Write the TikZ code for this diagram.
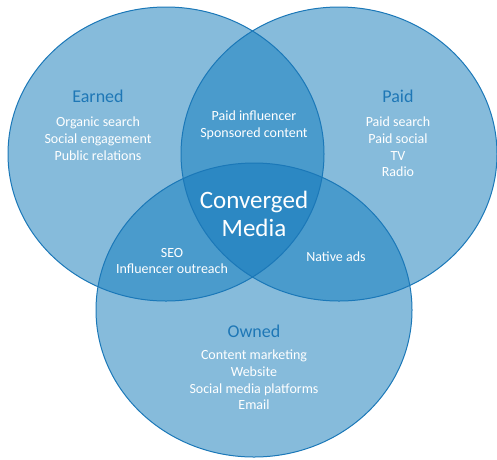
\documentclass[tikz,border=0pt]{standalone}
\usepackage{fontspec}
\setmainfont{Carlito}
\usetikzlibrary{positioning}
\definecolor{venlight}{HTML}{86BBDB}
\definecolor{venmid}{HTML}{4A9BCC}
\definecolor{vendark}{HTML}{2C88C3}
\definecolor{venedge}{HTML}{1B78B8}
\definecolor{ventitle}{HTML}{1E77B6}
\tikzset{
  oval/.style={x radius=158pt, y radius=147pt},
  title/.style={text=ventitle, font=\fontsize{18}{21}\selectfont},
  items/.style={text=white, align=center, font=\fontsize{14}{16.7}\selectfont},
  big/.style={text=white, align=center, font=\fontsize{25}{28}\selectfont}
}
\begin{document}
\begin{tikzpicture}[x=1pt,y=-1pt]
\useasboundingbox (0,0) rectangle (497,459);
\coordinate (earned) at (166,154);
\coordinate (paid) at (339,154);
\coordinate (owned) at (254,310);
% light circles
\fill[venlight] (earned) ellipse[oval];
\fill[venlight] (paid) ellipse[oval];
\fill[venlight] (owned) ellipse[oval];
% pairwise overlaps
\begin{scope}
\clip (earned) ellipse[oval];
\fill[venmid] (paid) ellipse[oval];
\fill[venmid] (owned) ellipse[oval];
\end{scope}
\begin{scope}
\clip (paid) ellipse[oval];
\fill[venmid] (owned) ellipse[oval];
\end{scope}
% centre
\begin{scope}
\clip (earned) ellipse[oval];
\clip (paid) ellipse[oval];
\fill[vendark] (owned) ellipse[oval];
\end{scope}
\foreach \c in {earned,paid,owned}
  \draw[venedge, line width=1pt] (\c) ellipse[oval];
% labels
\node[title] (earnedT) at (98,96) {Earned};
\node[items, below=7.5pt of earnedT] (earnedL) {Organic search\\Social engagement\\Public relations};
\node[title] (paidT) at (398,96) {Paid};
\node[items, below=7.5pt of paidT] (paidL) {Paid search\\Paid social\\TV\\Radio};
\node[title] (ownedT) at (254,331) {Owned};
\node[items, below=5.5pt of ownedT] (ownedL) {Content marketing\\Website\\Social media platforms\\Email};
\node[items] (ep) at (254,125.5) {Paid influencer\\Sponsored content};
\node[items] (eo) at (172,261) {SEO\\Influencer outreach};
\node[items] (po) at (336,257) {Native ads};
\node[big] (conv) at (254,214) {Converged\\Media};
\end{tikzpicture}
\end{document}
